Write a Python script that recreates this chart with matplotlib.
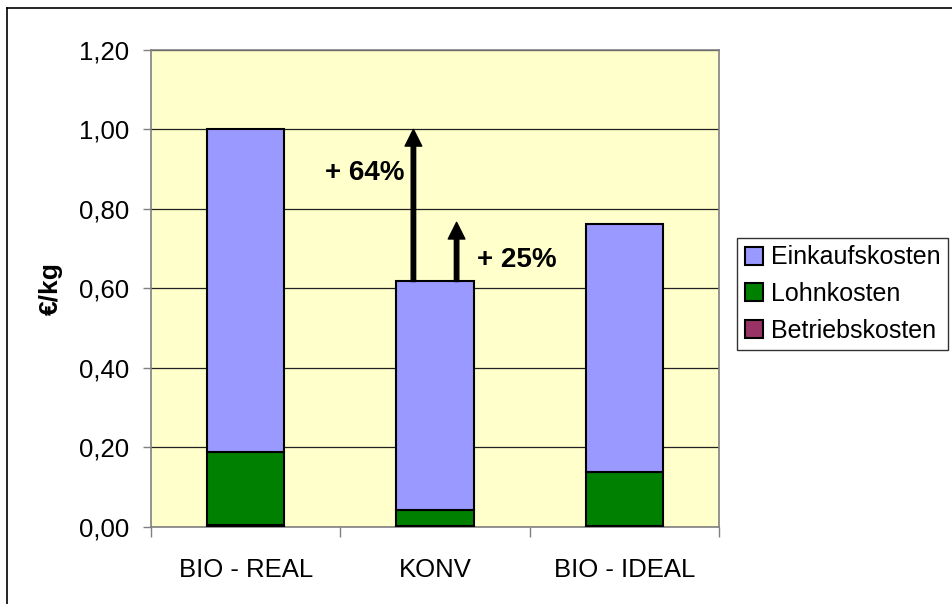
import matplotlib
matplotlib.use("Agg")
import matplotlib.pyplot as plt
from matplotlib.lines import Line2D

plt.rcParams['font.family'] = ['Liberation Sans', 'DejaVu Sans']

# Daten
kategorien = ["BIO - REAL", "KONV", "BIO - IDEAL"]
betriebskosten = [0.004, 0.001, 0.001]
lohnkosten = [0.183, 0.041, 0.137]
einkaufskosten = [0.813, 0.575, 0.624]
y_ticks = [0.0, 0.2, 0.4, 0.6, 0.8, 1.0, 1.2]
y_labels = ["0,00", "0,20", "0,40", "0,60", "0,80", "1,00", "1,20"]
konv_total = 0.617
bio_real_total = 1.00
bio_ideal_total = 0.766

fig = plt.figure(figsize=(9.52, 6.04), dpi=100)
ax = fig.add_axes([151 / 952, 1 - 526.5 / 604, 568 / 952, 476.5 / 604])
ax.set_facecolor("#FFFFCC")

x = list(range(len(kategorien)))
breite = 0.41
unten2 = [b + l for b, l in zip(betriebskosten, lohnkosten)]
b1 = ax.bar(x, betriebskosten, breite, color="#993366", edgecolor="black", linewidth=1.5, zorder=3)
b2 = ax.bar(x, lohnkosten, breite, bottom=betriebskosten, color="#008000", edgecolor="black", linewidth=1.5, zorder=3)
b3 = ax.bar(x, einkaufskosten, breite, bottom=unten2, color="#9999FF", edgecolor="black", linewidth=1.5, zorder=3)

ax.set_xlim(-0.5, 2.5)
ax.set_ylim(0, 1.2)
ax.set_yticks(y_ticks)
ax.set_yticklabels(y_labels, fontsize=18.5)
ax.yaxis.grid(True, color="#202020", linewidth=0.9, zorder=1)
ax.tick_params(axis="y", length=6, width=1, color="#808080", pad=10)

ax.set_xticks(x)
ax.set_xticklabels(kategorien, fontsize=18.5)
ax.tick_params(axis="x", which="major", length=0, pad=23)
ax.set_xticks([-0.5, 0.5, 1.5, 2.5], minor=True)
ax.tick_params(axis="x", which="minor", length=7, width=1, color="#808080")

for s in ax.spines.values():
    s.set_color("#808080")
    s.set_linewidth(1.2)

ax.set_ylabel("€/kg", fontsize=19, fontweight="bold")
ax.yaxis.set_label_coords(-0.155, 0.5)

# Pfeile
pfeil = dict(width=3.2, headwidth=12, headlength=12, color="black", shrink=0)
ax.annotate("", xy=(1 - 0.114, bio_real_total), xytext=(1 - 0.114, konv_total), arrowprops=pfeil, zorder=4)
ax.annotate("", xy=(1 + 0.114, bio_ideal_total), xytext=(1 + 0.114, konv_total), arrowprops=pfeil, zorder=4)
ax.text(1 - 0.16, 0.89, "+ 64%", fontsize=20, fontweight="bold", ha="right", va="center")
ax.text(1 + 0.22, 0.671, "+ 25%", fontsize=20, fontweight="bold", ha="left", va="center")

leg = fig.legend([b3, b2, b1], ["Einkaufskosten", "Lohnkosten", "Betriebskosten"],
                 loc="upper left", bbox_to_anchor=(737 / 952, 1 - 238 / 604),
                 fontsize=18, frameon=True, fancybox=False, edgecolor="black",
                 handlelength=0.75, handleheight=0.75, handletextpad=0.3,
                 labelspacing=0.5, borderpad=0.3, borderaxespad=0)
leg.get_frame().set_linewidth(1)

# Rahmen
fig.add_artist(Line2D([7 / 952, 7 / 952], [0, 1 - 8 / 604], color="black", linewidth=1.2))
fig.add_artist(Line2D([7 / 952, 1], [1 - 8 / 604, 1 - 8 / 604], color="black", linewidth=1.2))

fig.savefig("out.png", dpi=100)
